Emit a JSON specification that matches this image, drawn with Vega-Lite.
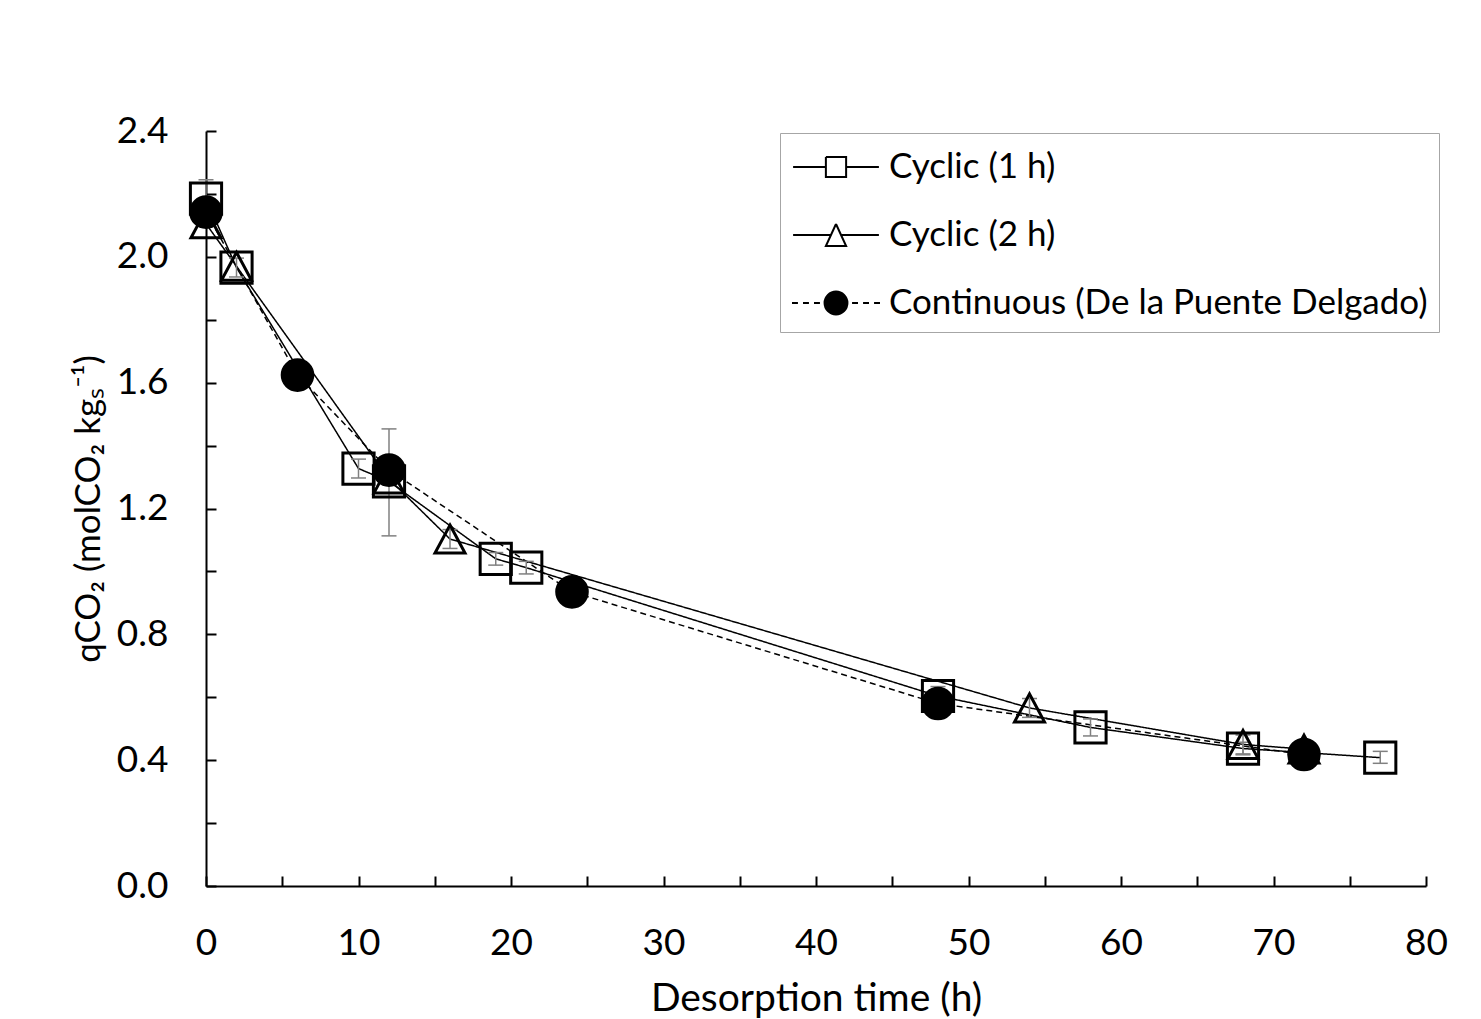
{
  "$schema": "https://vega.github.io/schema/vega-lite/v6.json",
  "width": 1220,
  "height": 755,
  "autosize": {"type": "none"},
  "padding": {"left": 206, "top": 131, "right": 55, "bottom": 133},
  "background": "white",
  "config": {
    "view": {"stroke": null},
    "font": "Lato",
    "axis": {
      "grid": false,
      "domainColor": "black",
      "domainWidth": 2,
      "tickColor": "black",
      "tickWidth": 2,
      "tickSize": -10,
      "labelColor": "black",
      "labelFont": "Lato",
      "labelFontSize": 37,
      "labelFlush": false,
      "labelOverlap": false,
      "titleColor": "black",
      "titleFont": "Lato",
      "titleFontSize": 39,
      "titleFontWeight": "normal"
    }
  },
  "datasets": {
    "pts": [
      {"series": "Cyclic (1 h)", "t": 0, "q": 2.185},
      {"series": "Cyclic (1 h)", "t": 2, "q": 1.966},
      {"series": "Cyclic (1 h)", "t": 10, "q": 1.327},
      {"series": "Cyclic (1 h)", "t": 12, "q": 1.286},
      {"series": "Cyclic (1 h)", "t": 19, "q": 1.04},
      {"series": "Cyclic (1 h)", "t": 21, "q": 1.012},
      {"series": "Cyclic (1 h)", "t": 48, "q": 0.604},
      {"series": "Cyclic (1 h)", "t": 58, "q": 0.504},
      {"series": "Cyclic (1 h)", "t": 68, "q": 0.437},
      {"series": "Cyclic (1 h)", "t": 77, "q": 0.408},
      {"series": "Cyclic (2 h)", "t": 0, "q": 2.105},
      {"series": "Cyclic (2 h)", "t": 2, "q": 1.97},
      {"series": "Cyclic (2 h)", "t": 12, "q": 1.294},
      {"series": "Cyclic (2 h)", "t": 16, "q": 1.103},
      {"series": "Cyclic (2 h)", "t": 54, "q": 0.566},
      {"series": "Cyclic (2 h)", "t": 68, "q": 0.45},
      {"series": "Cyclic (2 h)", "t": 72, "q": 0.435},
      {"series": "Continuous (De la Puente Delgado)", "t": 0, "q": 2.142},
      {"series": "Continuous (De la Puente Delgado)", "t": 6, "q": 1.624},
      {"series": "Continuous (De la Puente Delgado)", "t": 12, "q": 1.322},
      {"series": "Continuous (De la Puente Delgado)", "t": 24, "q": 0.935},
      {"series": "Continuous (De la Puente Delgado)", "t": 48, "q": 0.58},
      {"series": "Continuous (De la Puente Delgado)", "t": 72, "q": 0.418}
    ],
    "err": [
      {"series": "Cyclic (1 h)", "t": 0, "lo": 2.125, "hi": 2.245},
      {"series": "Cyclic (1 h)", "t": 2, "lo": 1.936, "hi": 1.996},
      {"series": "Cyclic (1 h)", "t": 10, "lo": 1.297, "hi": 1.357},
      {"series": "Cyclic (1 h)", "t": 12, "lo": 1.113, "hi": 1.453},
      {"series": "Cyclic (1 h)", "t": 19, "lo": 1.02, "hi": 1.06},
      {"series": "Cyclic (1 h)", "t": 21, "lo": 0.992, "hi": 1.032},
      {"series": "Cyclic (1 h)", "t": 48, "lo": 0.574, "hi": 0.634},
      {"series": "Cyclic (1 h)", "t": 58, "lo": 0.477, "hi": 0.531},
      {"series": "Cyclic (1 h)", "t": 68, "lo": 0.417, "hi": 0.457},
      {"series": "Cyclic (1 h)", "t": 77, "lo": 0.39, "hi": 0.428},
      {"series": "Cyclic (2 h)", "t": 16, "lo": 1.073, "hi": 1.133},
      {"series": "Cyclic (2 h)", "t": 54, "lo": 0.536, "hi": 0.596},
      {"series": "Cyclic (2 h)", "t": 68, "lo": 0.42, "hi": 0.48}
    ]
  },
  "resolve": {"scale": {"shape": "independent"}},
  "layer": [
    {
      "data": {"name": "pts"},
      "mark": {"type": "line", "color": "black", "strokeWidth": 1.5},
      "encoding": {
        "x": {
          "field": "t",
          "type": "quantitative",
          "scale": {"domain": [0, 80], "nice": false},
          "axis": {
            "values": [0, 5, 10, 15, 20, 25, 30, 35, 40, 45, 50, 55, 60, 65, 70, 75, 80],
            "labelExpr": "datum.value % 10 == 0 ? datum.label : ''",
            "labelPadding": 49,
            "title": "Desorption time (h)",
            "titlePadding": 18
          }
        },
        "y": {
          "field": "q",
          "type": "quantitative",
          "scale": {"domain": [0, 2.4], "nice": false},
          "axis": {
            "values": [0, 0.2, 0.4, 0.6, 0.8, 1.0, 1.2, 1.4, 1.6, 1.8, 2.0, 2.2, 2.4],
            "labelExpr": "round(datum.value * 10) % 4 == 0 ? format(datum.value, '.1f') : ''",
            "labelPadding": 48,
            "title": "qCO₂ (molCO₂ kgₛ⁻¹)",
            "titleFontSize": 35,
            "titlePadding": 10
          }
        },
        "detail": {"field": "series"},
        "strokeDash": {
          "field": "series",
          "type": "nominal",
          "scale": {
            "domain": ["Continuous (De la Puente Delgado)", "Cyclic (2 h)", "Cyclic (1 h)"],
            "range": [[6, 4], [1, 0], [1, 0]]
          },
          "legend": null
        },
        "order": {"field": "t"}
      }
    },
    {
      "data": {"name": "err"},
      "mark": {"type": "rule", "color": "#808080", "strokeWidth": 1.5},
      "encoding": {
        "x": {"field": "t", "type": "quantitative"},
        "y": {"field": "lo", "type": "quantitative"},
        "y2": {"field": "hi"}
      }
    },
    {
      "data": {"name": "err"},
      "mark": {"type": "tick", "orient": "horizontal", "color": "#808080", "size": 15, "thickness": 1.5, "opacity": 1},
      "encoding": {
        "x": {"field": "t", "type": "quantitative"},
        "y": {"field": "lo", "type": "quantitative"}
      }
    },
    {
      "data": {"name": "err"},
      "mark": {"type": "tick", "orient": "horizontal", "color": "#808080", "size": 15, "thickness": 1.5, "opacity": 1},
      "encoding": {
        "x": {"field": "t", "type": "quantitative"},
        "y": {"field": "hi", "type": "quantitative"}
      }
    },
    {
      "data": {"name": "pts"},
      "mark": {"type": "point", "stroke": "black", "strokeWidth": 3, "opacity": 1, "size": 900},
      "encoding": {
        "x": {"field": "t", "type": "quantitative"},
        "y": {"field": "q", "type": "quantitative"},
        "shape": {
          "field": "series",
          "type": "nominal",
          "scale": {
            "domain": ["Cyclic (1 h)", "Cyclic (2 h)", "Continuous (De la Puente Delgado)"],
            "range": ["M-1.04,-1.04L1.04,-1.04L1.04,1.04L-1.04,1.04Z", "M0,-0.93L1,0.93L-1,0.93Z", "M1.02,0A1.02,1.02,0,1,1,-1.02,0A1.02,1.02,0,1,1,1.02,0Z"]
          },
          "legend": null
        },
        "fill": {
          "field": "series",
          "type": "nominal",
          "scale": {
            "domain": ["Continuous (De la Puente Delgado)", "Cyclic (1 h)", "Cyclic (2 h)"],
            "range": ["black", "transparent", "transparent"]
          },
          "legend": null
        }
      }
    },
    {
      "data": {"name": "pts"},
      "transform": [{"filter": "datum.t < 0"}],
      "mark": {"type": "point", "filled": true, "color": "black", "stroke": "black", "opacity": 1, "size": 1936},
      "encoding": {
        "x": {"field": "t", "type": "quantitative"},
        "y": {"field": "q", "type": "quantitative"},
        "shape": {
          "field": "series",
          "type": "nominal",
          "scale": {
            "domain": ["Cyclic (1 h)", "Cyclic (2 h)", "Continuous (De la Puente Delgado)"],
            "range": [
              "M-1.95,0L-0.46,0M0.46,0L1.95,0M-0.46,-0.46L0.46,-0.46L0.46,0.46L-0.46,0.46L-0.46,-0.46L-0.46,0.46L0.46,0.46L0.46,-0.46Z",
              "M-1.95,0L-0.23,0M0.23,0L1.95,0M0,-0.5L0.46,0.5L-0.46,0.5L0,-0.5L-0.46,0.5L0.46,0.5Z",
              "M-2,0L-1.73,0M-1.5,0L-1.23,0M-1,0L-0.73,0M0.73,0L1,0M1.23,0L1.5,0M1.73,0L2,0M0.52,0A0.52,0.52,0,1,1,-0.52,0A0.52,0.52,0,1,1,0.52,0Z"
            ]
          },
          "legend": {
            "title": null,
            "orient": "none",
            "legendX": 574,
            "legendY": 2,
            "padding": 11,
            "strokeColor": "#a6a6a6",
            "fillColor": "white",
            "symbolSize": 1936,
            "symbolStrokeWidth": 2,
            "symbolOffset": 22,
            "labelOffset": 30,
            "labelLimit": 0,
            "rowPadding": 27,
            "labelFont": "Lato",
            "labelFontSize": 35,
            "labelColor": "black"
          }
        }
      }
    }
  ]
}
